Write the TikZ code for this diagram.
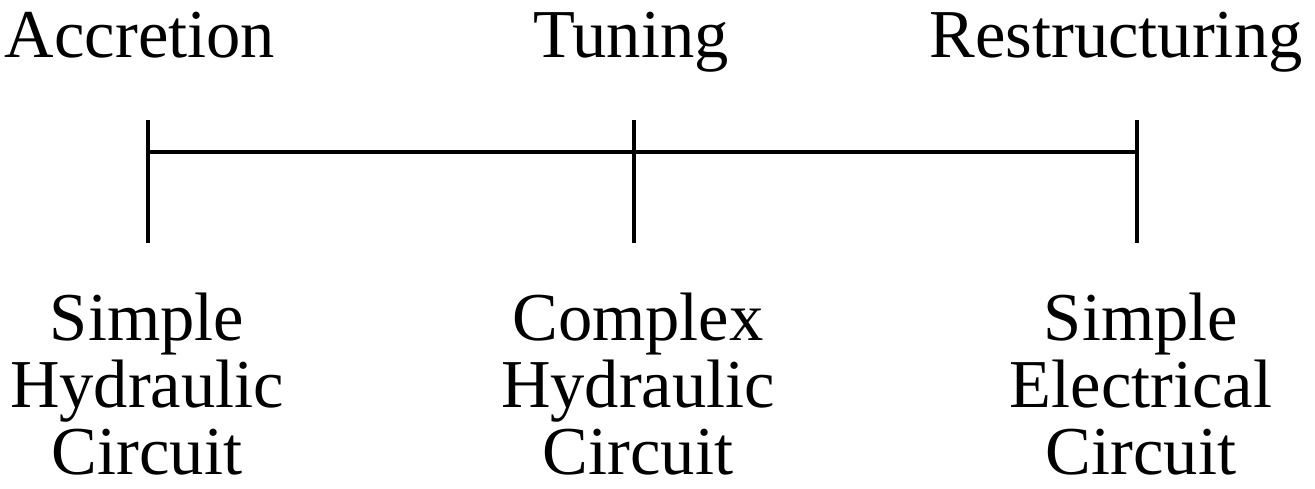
\documentclass[tikz,border=0pt]{standalone}
\usepackage{fontspec}
\setmainfont{Liberation Serif}
\usepackage{xcolor}
\usetikzlibrary{positioning}
\definecolor{tlink}{HTML}{000000}
\tikzset{
  stagelabel/.style={anchor=base,inner sep=0pt,text=tlink,
                     font=\fontsize{39}{38}\selectfont},
  modellabel/.style={anchor=base,inner sep=0pt,align=center,text=tlink,
                     font=\fontsize{39}{38}\selectfont},
  axis/.style={draw=tlink,line width=2.3pt},
}

\begin{document}
\begin{tikzpicture}[x=0.02cm,y=-0.02cm]
  \useasboundingbox (0,0) rectangle (1315,489);
  % tick marks
  \coordinate (acctop) at (148,120);  \coordinate (accbot) at (148,243);
  \coordinate (tuntop) at (634,120);  \coordinate (tunbot) at (634,243);
  \coordinate (restop) at (1137,120); \coordinate (resbot) at (1137,243);
  \coordinate (accmid) at (148,152);
  \coordinate (resmid) at (1137,152);
  \draw[axis] (acctop) -- (accbot);
  \draw[axis] (tuntop) -- (tunbot);
  \draw[axis] (restop) -- (resbot);
  \draw[axis] (accmid) -- (resmid);
  % stage names
  \node[stagelabel] (accretion) at (140,58) {Accretion};
  \node[stagelabel] (tuning) at (631,58) {Tuning};
  \node[stagelabel] (restructuring) at (1116,58) {Restructuring};
  % models (base = last line)
  \node[modellabel] (model1) at (147,474) {Simple\\Hydraulic\\Circuit};
  \node[modellabel] (model2) at (638,474) {Complex\\Hydraulic\\Circuit};
  \node[modellabel] (model3) at (1141,474) {Simple\\Electrical\\Circuit};
\end{tikzpicture}
\end{document}
